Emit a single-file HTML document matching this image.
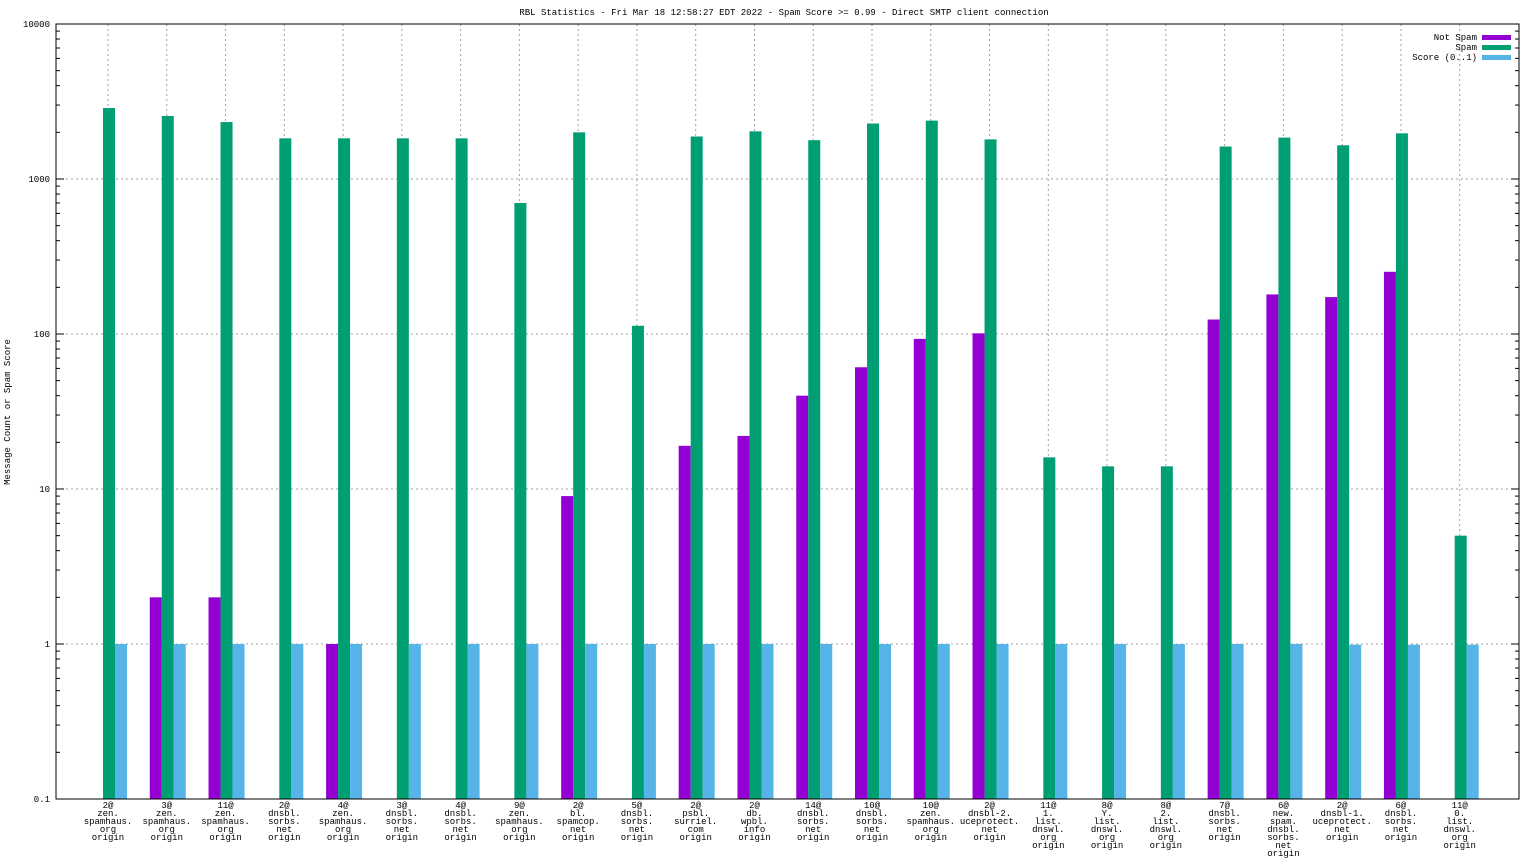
<!DOCTYPE html>
<html><head><meta charset="utf-8"><style>
body{margin:0;background:#fff;}
svg{display:block;font-family:"Liberation Mono",monospace;}
</style></head><body>
<svg id="c" width="1536" height="864"></svg>
<script>
const categories=[
["2@","zen.","spamhaus.","org","origin"],["3@","zen.","spamhaus.","org","origin"],["11@","zen.","spamhaus.","org","origin"],
["2@","dnsbl.","sorbs.","net","origin"],["4@","zen.","spamhaus.","org","origin"],["3@","dnsbl.","sorbs.","net","origin"],
["4@","dnsbl.","sorbs.","net","origin"],["9@","zen.","spamhaus.","org","origin"],["2@","bl.","spamcop.","net","origin"],
["5@","dnsbl.","sorbs.","net","origin"],["2@","psbl.","surriel.","com","origin"],["2@","db.","wpbl.","info","origin"],
["14@","dnsbl.","sorbs.","net","origin"],["10@","dnsbl.","sorbs.","net","origin"],["10@","zen.","spamhaus.","org","origin"],
["2@","dnsbl-2.","uceprotect.","net","origin"],["11@","1.","list.","dnswl.","org","origin"],["8@","Y.","list.","dnswl.","org","origin"],
["8@","2.","list.","dnswl.","org","origin"],["7@","dnsbl.","sorbs.","net","origin"],["6@","new.","spam.","dnsbl.","sorbs.","net","origin"],
["2@","dnsbl-1.","uceprotect.","net","origin"],["6@","dnsbl.","sorbs.","net","origin"],["11@","0.","list.","dnswl.","org","origin"]];
const notSpam=[0,2,2,0,1,0,0,0,9,0,19,22,40,61,93,101,0,0,0,124,180,173,252,0];
const spam=[2870,2550,2330,1830,1830,1830,1830,700,2000,113,1880,2030,1780,2280,2380,1800,16,14,14,1620,1850,1650,1970,5];
const score=[1,1,1,1,1,1,1,1,1,1,1,1,1,1,1,1,1,1,1,1,1,0.99,0.99,0.99];
const yTicks=[0.1,1,10,100,1000,10000];
const yTickLabels=["0.1","1","10","100","1000","10000"];

const L=56,R=1519,T=24,B=799;
const NS="http://www.w3.org/2000/svg";
const svg=document.getElementById('c');
function y(v){return B-(Math.log10(v)+1)*(B-T)/5;}
function x(i){return 108+i*58.77;}
function el(t,a,p){const e=document.createElementNS(NS,t);for(const k in a)e.setAttribute(k,a[k]);(p||svg).appendChild(e);return e;}

for(let d=0;d<yTicks.length;d++){
  const yy=y(yTicks[d]);
  if(d>0&&d<yTicks.length-1){const g=el('line',{x1:L,x2:R,y1:yy,y2:yy,stroke:'#a0a0a0','stroke-dasharray':'2,3'});
  }
  el('line',{x1:L,x2:L+8,y1:yy,y2:yy,stroke:'#000'});el('line',{x1:R,x2:R-8,y1:yy,y2:yy,stroke:'#000'});
  if(d<yTicks.length-1)for(let m=2;m<10;m++){const ym=y(yTicks[d]*m);
    el('line',{x1:L,x2:L+4,y1:ym,y2:ym,stroke:'#000'});el('line',{x1:R,x2:R-4,y1:ym,y2:ym,stroke:'#000'});}
  const t=el('text',{x:L-6,y:yy+3,'text-anchor':'end','font-size':'9'});t.textContent=yTickLabels[d];
  
}
categories.forEach((c,i)=>{
  const xx=x(i);
  const g=el('line',{x1:xx,x2:xx,y1:T,y2:B,stroke:'#a0a0a0','stroke-dasharray':'2,3'});
  
  const t=el('text',{x:xx,y:808,'text-anchor':'middle','font-size':'9'});
  
  c.forEach((s,k)=>{const ts=el('tspan',{x:xx,dy:k?8:0},t);ts.textContent=s;});
});
const series=[[notSpam,'#9400d3',-12,'not-spam'],[spam,'#009e73',0,'spam'],[score,'#56b4e9',12,'score']];
series.forEach(([arr,col,off,nm])=>{
  arr.forEach((v,i)=>{if(v<=0)return;
    const r=el('rect',{x:x(i)+off-5,y:y(v),width:12,height:B-y(v),fill:col});
    });
});
el('rect',{x:L,y:T,width:R-L,height:B-T,fill:'none',stroke:'#000'});
const title=el('text',{x:784,y:15,'text-anchor':'middle','font-size':'9'});
title.textContent="RBL Statistics - Fri Mar 18 12:58:27 EDT 2022 - Spam Score >= 0.99 - Direct SMTP client connection";

const yt=el('text',{x:10,y:412,'text-anchor':'middle','font-size':'9',transform:'rotate(-90 10 412)'});
yt.textContent="Message Count or Spam Score";

[["Not Spam",'#9400d3'],["Spam",'#009e73'],["Score (0..1)",'#56b4e9']].forEach(([n,c],k)=>{
  const yy=37+k*10;
  const t=el('text',{x:1477,y:yy+3,'text-anchor':'end','font-size':'9'});t.textContent=n;
  
  el('rect',{x:1482,y:yy-2,width:29,height:5,fill:c});
});
</script>
</body></html>
